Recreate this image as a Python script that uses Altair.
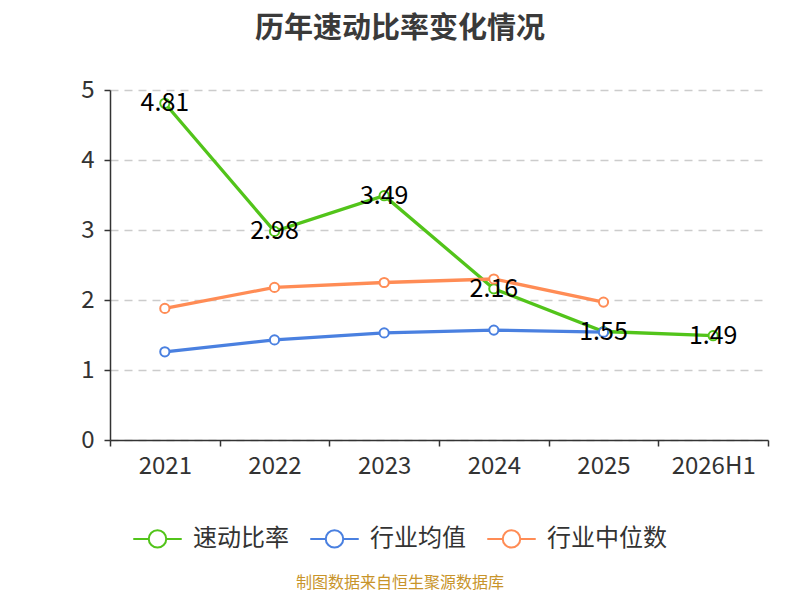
import altair as alt
import pandas as pd

years = ["2021", "2022", "2023", "2024", "2025", "2026H1"]
quick_ratio = [4.81, 2.98, 3.49, 2.16, 1.55, 1.49]
industry_mean = [1.26, 1.43, 1.53, 1.57, 1.54]
industry_median = [1.88, 2.18, 2.25, 2.30, 1.97]
series_names = ["速动比率", "行业均值", "行业中位数"]
series_colors = ["#52c41a", "#4a80e0", "#ff8c55"]
source_note = "制图数据来自恒生聚源数据库"

FONT = "Noto Sans CJK SC"

rows = []
for name, vals in zip(series_names, [quick_ratio, industry_mean, industry_median]):
    for y, v in zip(years, vals):
        rows.append({"year": y, "value": v, "series": name})
df = pd.DataFrame(rows)

x_enc = alt.X(
    "year:N",
    sort=years,
    bandPosition=0.5,
    scale=alt.Scale(type="band", domain=years, paddingInner=0, paddingOuter=0),
    axis=alt.Axis(
        title=None, labelAngle=0, tickBand="extent", labelFontSize=24,
        labelColor="#333333", labelPadding=8, tickSize=6, tickColor="#333333",
        domainColor="#333333", domainWidth=1.5, tickWidth=1.5, grid=False,
        labelFont=FONT,
    ),
)
y_enc = alt.Y(
    "value:Q",
    scale=alt.Scale(domain=[0, 5], nice=False),
    axis=alt.Axis(
        title=None, values=[0, 1, 2, 3, 4, 5], labelFontSize=24, labelColor="#333333",
        labelPadding=10, tickSize=6, tickColor="#333333", domainColor="#333333",
        domainWidth=1.5, tickWidth=1.5, grid=True, gridColor="#cccccc",
        gridDash=[8, 6], gridWidth=1.5, labelFont=FONT,
    ),
)
color_scale = alt.Scale(domain=series_names, range=series_colors)

legend = alt.Legend(
    title=None, orient="none", direction="horizontal", legendX=22, legendY=423,
    symbolType="M-1,0L-0.36,0M0.36,0L1,0M-0.36,0A0.36,0.36,0,1,1,0.36,0A0.36,0.36,0,1,1,-0.36,0Z",
    symbolSize=2350, symbolStrokeWidth=2, labelFontSize=24, labelColor="#333333",
    labelFont=FONT, columnPadding=17, labelOffset=10,
)

layers = []
for i, name in enumerate(series_names):
    sub = df[df["series"] == name]
    base = alt.Chart(sub).encode(x=x_enc, y=y_enc)
    line = base.mark_line(strokeWidth=3.3).encode(
        color=alt.Color("series:N", scale=color_scale, legend=legend if i == 0 else None)
    )
    pts = base.mark_point(filled=True, fill="white", size=85, strokeWidth=2, opacity=1).encode(
        stroke=alt.Stroke("series:N", scale=color_scale, legend=None)
    )
    layers += [line, pts]

labels = alt.Chart(df[df["series"] == series_names[0]]).mark_text(
    fontSize=25, color="#000000", align="center", baseline="middle", font=FONT
).encode(x=x_enc, y=y_enc, text=alt.Text("value:Q", format=".2f"))
layers.append(labels)

footer = alt.Chart(pd.DataFrame({"t": [source_note]})).mark_text(
    fontSize=16, color="#c8942a", align="center", baseline="middle", font=FONT
).encode(text="t:N", x=alt.value(290), y=alt.value(493))
layers.append(footer)

chart = alt.layer(*layers).properties(
    width=658, height=350,
    autosize=alt.AutoSizeParams(type="none"),
    padding={"left": 102, "top": 82, "right": 24, "bottom": 152},
    title=alt.TitleParams(
        "历年速动比率变化情况", anchor="middle", frame="group", fontSize=29,
        fontWeight="bold", color="#3a3a3a", offset=34, dx=-39, font=FONT,
    ),
).configure_view(stroke=None)

chart.save("out.html", embed_options={"renderer": "svg", "actions": False})
